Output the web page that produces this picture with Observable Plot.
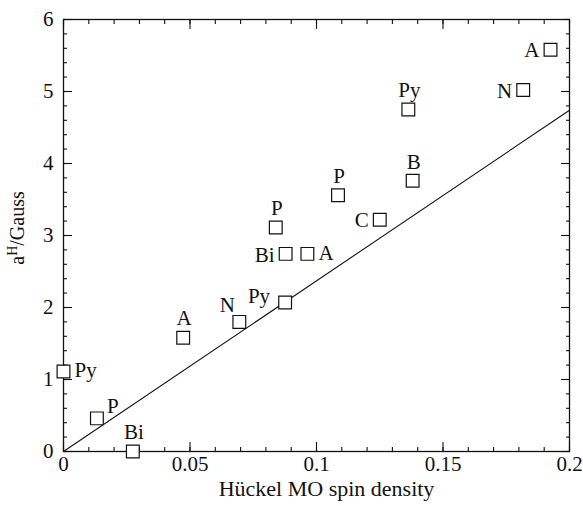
<!DOCTYPE html>
<html>
<head>
<meta charset="utf-8">
<script src="https://cdn.jsdelivr.net/npm/d3@7"></script>
<script src="https://cdn.jsdelivr.net/npm/@observablehq/plot@0.6"></script>
<style>
  body { margin: 0; background: #fff; }
</style>
</head>
<body>
<div id="chart"></div>
<script>
// Hückel MO spin density vs. observed proton hyperfine coupling
const spinDensity   = [0, 0.0132, 0.0274, 0.0473, 0.0695, 0.0876, 0.0878, 0.0839, 0.0964, 0.1085, 0.125, 0.138, 0.1363, 0.1817, 0.1925];
const couplingGauss = [1.11, 0.46, 0, 1.58, 1.80, 2.07, 2.745, 3.11, 2.745, 3.56, 3.22, 3.76, 4.75, 5.02, 5.58];
const compound      = ["Py", "P", "Bi", "A", "N", "Py", "Bi", "P", "A", "P", "C", "B", "Py", "N", "A"];
const labelSide     = ["right", "upper-right", "above", "above", "above-left", "upper-left", "left", "above", "right", "above", "left", "above", "above", "left", "left"];

// McConnell line a = Q·ρ
const lineRho   = [0, 0.2];
const lineGauss = [0, 4.74];

// Axis ticks and labels
const xMajor = [0, 0.05, 0.1, 0.15, 0.2];
const xTickLabels = ["0", "0.05", "0.1", "0.15", "0.2"];
const yMajor = [0, 1, 2, 3, 4, 5, 6];
const yTickLabels = ["0", "1", "2", "3", "4", "5", "6"];
const xMinor = d3.range(0, 21).map(i => i / 100);
const yMinor = d3.range(0, 31).map(i => i / 5);

const points = spinDensity.map((x, i) => ({x, y: couplingGauss[i], name: compound[i], side: labelSide[i]}));
const fit = lineRho.map((x, i) => ({x, y: lineGauss[i]}));

const ink = "#111";
const serif = "'Liberation Serif', 'Times New Roman', serif";
const fontSize = 21;

// Label placement relative to each marker
const placement = {
  "right":       {textAnchor: "start",  dx: 11,  dy: -1},
  "left":        {textAnchor: "end",    dx: -11, dy: 1},
  "above":       {textAnchor: "middle", dx: 1,   dy: -19},
  "upper-right": {textAnchor: "start",  dx: 10,  dy: -12},
  "upper-left":  {textAnchor: "end",    dx: -15, dy: -6},
  "above-left":  {textAnchor: "middle", dx: -12, dy: -17}
};

// Inward-pointing ticks only (labels are drawn separately)
const tickAxis = (axis, anchor, ticks, size) =>
  axis({anchor, ticks, tickSize: -size, fill: "none", label: null, stroke: ink, strokeWidth: 1.1});

const textStyle = {fill: ink, fontFamily: serif, fontSize};

const plot = Plot.plot({
  width: 583,
  height: 506,
  marginLeft: 63,
  marginRight: 14,
  marginTop: 19,
  marginBottom: 55,
  x: {domain: [0, 0.2]},
  y: {domain: [0, 6]},
  style: {fontFamily: serif, fontSize: `${fontSize}px`, color: ink, background: "white"},
  marks: [
    tickAxis(Plot.axisX, "bottom", xMinor, 4),
    tickAxis(Plot.axisX, "bottom", xMajor, 9),
    tickAxis(Plot.axisX, "top", xMinor, 4),
    tickAxis(Plot.axisX, "top", xMajor, 9),
    tickAxis(Plot.axisY, "left", yMinor, 4),
    tickAxis(Plot.axisY, "left", yMajor, 9),
    tickAxis(Plot.axisY, "right", yMinor, 4),
    tickAxis(Plot.axisY, "right", yMajor, 9),
    Plot.frame({stroke: ink, strokeWidth: 1.3}),
    Plot.text(xMajor, {x: d => d, text: (d, i) => xTickLabels[i], frameAnchor: "bottom", dy: 19, ...textStyle}),
    Plot.text(yMajor, {y: d => d, text: (d, i) => yTickLabels[i], frameAnchor: "left", textAnchor: "end", dx: -10, ...textStyle}),
    Plot.text(["Hückel MO spin density"], {text: d => d, frameAnchor: "bottom", dx: 10, dy: 44, ...textStyle, fontSize: 22}),
    Plot.line(fit, {x: "x", y: "y", stroke: ink, strokeWidth: 1.1}),
    Plot.dot(points, {x: "x", y: "y", symbol: "square", r: 7.2, stroke: ink, strokeWidth: 1.2, fill: "white"}),
    ...Object.entries(placement).map(([side, opts]) =>
      Plot.text(points, {
        filter: d => d.side === side,
        x: "x", y: "y", text: "name",
        ...textStyle, ...opts
      })
    )
  ]
});

// Y axis title with a superscript H
const yTitle = d3.select(plot).append("text")
  .attr("transform", "translate(24,228) rotate(-90)")
  .attr("text-anchor", "middle")
  .attr("font-family", serif)
  .attr("font-size", 20)
  .attr("fill", ink);
yTitle.append("tspan").text("a");
yTitle.append("tspan").attr("dy", -7).attr("font-size", 14).text("H");
yTitle.append("tspan").attr("dy", 7).text("/Gauss");

document.getElementById("chart").append(plot);
</script>
</body>
</html>
